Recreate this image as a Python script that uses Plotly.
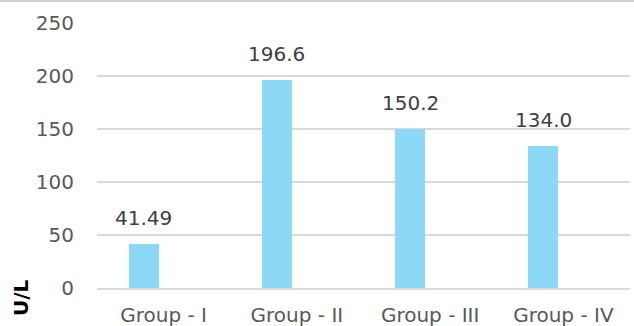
import plotly.graph_objects as go

# Enzyme activity per group
groups = ["Group - I", "Group - II", "Group - III", "Group - IV"]
values = [41.49, 196.6, 150.2, 134.0]
y_ticks = [0, 50, 100, 150, 200, 250]

W, H = 634, 326
ML, MR, MT, MB = 97, 4, 23, 38
FONT = "DejaVu Sans"
FS = 20
BAR = "#8dd7f7"
GRID = "#d9d9d9"

fig = go.Figure()
fig.add_trace(go.Bar(
    x=groups, y=values,
    marker=dict(color=BAR, line=dict(width=0)),
    width=0.224, offset=-0.262,
    hoverinfo="x+y",
))

# Value labels above each bar
for g, v in zip(groups, values):
    fig.add_annotation(
        x=g, y=v, text=str(v), showarrow=False,
        xshift=-20, yshift=12, yanchor="bottom",
        font=dict(family=FONT, size=FS, color="#404040"),
    )

# Axis title at the lower left
fig.add_annotation(
    xref="paper", yref="paper",
    x=-(ML - 21) / (W - ML - MR), y=-10 / (H - MT - MB),
    text="<b>U/L</b>", textangle=-90, showarrow=False,
    xanchor="center", yanchor="middle",
    font=dict(family=FONT, size=FS, color="#000000"),
)

# Thin border line along the top edge
fig.add_shape(
    type="line", xref="paper", yref="paper",
    x0=-ML / (W - ML - MR), x1=1 + MR / (W - ML - MR),
    y0=1 + (MT - 1) / (H - MT - MB), y1=1 + (MT - 1) / (H - MT - MB),
    line=dict(color="#d0d0d0", width=2),
)

fig.update_layout(
    width=W, height=H,
    margin=dict(l=ML, r=MR, t=MT, b=MB, autoexpand=False),
    paper_bgcolor="white", plot_bgcolor="white",
    showlegend=False,
    bargap=0,
    font=dict(family=FONT, size=FS, color="#595959"),
    xaxis=dict(
        type="category", showgrid=False, automargin=False,
        showline=True, linecolor=GRID, linewidth=1.5,
        ticks="", ticklabelstandoff=8,
        tickfont=dict(family=FONT, size=FS, color="#595959"),
    ),
    yaxis=dict(
        range=[0, 250], tickvals=y_ticks, automargin=False,
        showgrid=True, gridcolor=GRID, gridwidth=1.5,
        zeroline=False, showline=False, ticks="",
        ticklabelstandoff=22,
        tickfont=dict(family=FONT, size=FS, color="#595959"),
    ),
)

fig.write_html("out.html")
